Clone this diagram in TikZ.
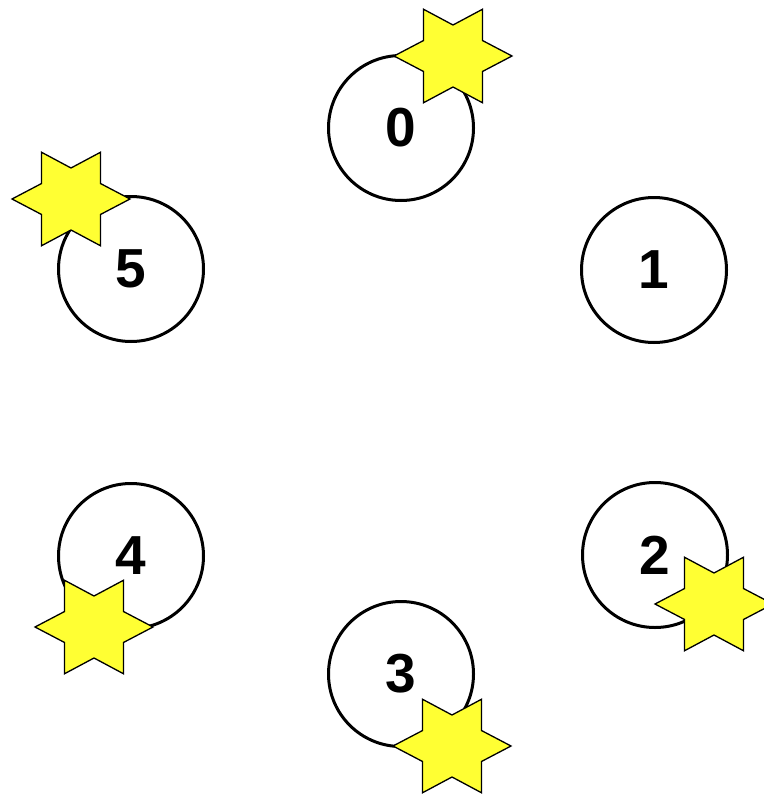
\documentclass[tikz,border=0pt]{standalone}
\usepackage{fontspec}
\setmainfont{Liberation Sans}
\usepackage{tikz}
\usetikzlibrary{positioning}
\definecolor{staryellow}{HTML}{FFFF33}

\tikzset{
  pics/hexstar/.style={code={
    \draw[starline] (0:59pt and 54pt)
      \foreach \a in {30,90,...,330}{ -- (\a:34pt and 31pt) -- (\a+30:59pt and 54pt)}
      -- cycle;
  }}
}

\begin{document}
\begin{tikzpicture}[
  x=1pt, y=-1pt,
  seat/.style={
    circle, draw, line width=3pt, fill=white,
    minimum size=145pt, inner sep=0pt,
    font=\fontsize{55}{60}\selectfont\bfseries
  },
  starline/.style={draw=black, line width=1.3pt, fill=staryellow, line join=miter}
]
\useasboundingbox (0,0) rectangle (763,797);

% Seats around the table
\node[seat] (c0) at (401,128) {0};
\node[seat] (c1) at (654,270) {1};
\node[seat] (c2) at (655,555) {2};
\node[seat] (c3) at (401,674) {3};
\node[seat] (c4) at (131,556) {4};
\node[seat] (c5) at (131,269) {5};

% Stars
\pic at (453,56) {hexstar};
\pic at (71,199) {hexstar};
\pic at (714,604) {hexstar};
\pic at (452,746) {hexstar};
\pic at (94,627) {hexstar};

\end{tikzpicture}
\end{document}
